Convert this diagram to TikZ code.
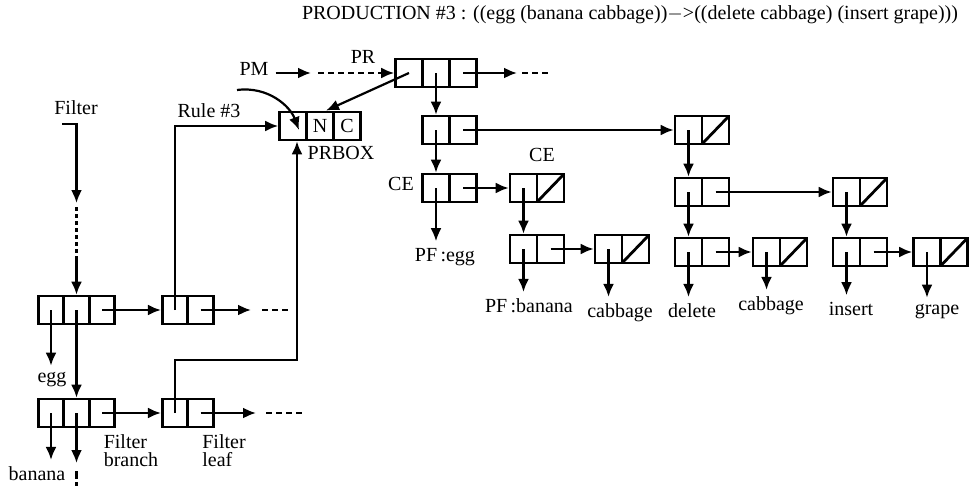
\documentclass[tikz,border=0pt]{standalone}
\usepackage{fontspec}
\setmainfont{Liberation Serif}
\usepackage{tikz}
\usetikzlibrary{arrows.meta,calc}

\tikzset{
	cell/.style={draw, line width=1.4pt, minimum width=13.5pt, minimum height=14pt, inner sep=0pt},
	fcell/.style={cell, minimum width=12.75pt},
	nil/.style={cell, path picture={\draw[line width=1.4pt] (path picture bounding box.south west) -- (path picture bounding box.north east);}},
	ptr/.style={line width=1.1pt, -{Latex[length=6.5pt,width=5.5pt]}},
	dots/.style={line width=1.1pt, dash pattern=on 3pt off 2pt},
}

\begin{document}
\begin{tikzpicture}[x=0.5pt, y=-0.5pt]
		\useasboundingbox (0,0) rectangle (970,487);
		\node (title) at (630,15) {PRODUCTION \#3 : ((egg\ (banana cabbage))$-$>((delete cabbage) (insert grape)))};

		\node (pm) at (254,69) {PM};
		\node (prlbl) at (363,57) {PR};
		\node[cell] (pr1) at (409,73) {};
		\node[cell] (pr2) at (436,73) {};
		\node[cell] (pr3) at (463,73) {};
		\coordinate (pmarrow) at (311,73);
		\coordinate (pmdots) at (318,73);
		\coordinate (prdots) at (381,73);
		\draw[ptr] (pm.east |- pmarrow) -- (pmarrow);
		\draw[dots] (pmdots) -- (prdots);
		\draw[ptr] (prdots) -- (pr1.west);
		\coordinate (prnext) at (517,73);
		\coordinate (prdotsa) at (522,73);
		\coordinate (prdotsb) at (550,73);
		\draw[ptr] (pr3.center) -- (prnext);
		\draw[dots] (prdotsa) -- (prdotsb);

		\node[cell] (prb1) at (293,126) {};
		\node[cell] (prb2) at (320,126) {N};
		\node[cell] (prb3) at (347,126) {C};
		\node (prboxlbl) at (341,153) {PRBOX};
		\draw[ptr] (pr1.center) -- ($(prb2.north)+(6,0)$);
		\coordinate (curvestart) at (237,90);
		\draw[ptr] (curvestart) .. controls (268,86) and (290,106) .. ($(prb1.center)+(6,4)$);

		\node[cell] (lhs1) at (436,130) {};
		\node[cell] (lhs2) at (463,130) {};
		\draw[ptr] (pr2.center) -- (lhs1.north);
		\node[cell] (cea1) at (436,188) {};
		\node[cell] (cea2) at (463,188) {};
		\node (celbla) at (401,184) {CE};
		\draw[ptr] (lhs1.center) -- (cea1.north);
		\node (pfegglbl) at (445,257) {PF\,:egg};
		\draw[ptr] (cea1.center) -- (cea1.center |- pfegglbl.north);
		\node[cell] (ceb1) at (523.5,188) {};
		\node[nil] (ceb2) at (550.5,188) {};
		\node (celblb) at (542,155) {CE};
		\draw[ptr] (cea2.center) -- (ceb1.west);
		\node[cell] (pfa1) at (523.5,249) {};
		\node[cell] (pfa2) at (550.5,249) {};
		\draw[ptr] (ceb1.center) -- (pfa1.north);
		\node[cell] (pfb1) at (608.5,249) {};
		\node[nil] (pfb2) at (635.5,249) {};
		\draw[ptr] (pfa2.center) -- (pfb1.west);
		\node (pfbananalbl) at (529,306) {PF\,:banana};
		\node (cabbagealbl) at (620,313) {cabbage};
		\draw[ptr] (pfa1.center) -- (pfa1.center |- pfbananalbl.north);
		\draw[ptr] (pfb1.center) -- (pfb1.center |- cabbagealbl.north);

		\node[cell] (rhs1) at (688.5,130) {};
		\node[nil] (rhs2) at (715.5,130) {};
		\draw[ptr] (lhs2.center) -- (rhs1.west);
		\node[cell] (acta1) at (688.5,192) {};
		\node[cell] (acta2) at (715.5,192) {};
		\draw[ptr] (rhs1.center) -- (acta1.north);
		\node[cell] (actb1) at (846.5,192) {};
		\node[nil] (actb2) at (873.5,192) {};
		\draw[ptr] (acta2.center) -- (actb1.west);
		\node[cell] (dela1) at (688.5,252) {};
		\node[cell] (dela2) at (715.5,252) {};
		\draw[ptr] (acta1.center) -- (dela1.north);
		\node[cell] (delb1) at (766.5,252) {};
		\node[nil] (delb2) at (793.5,252) {};
		\draw[ptr] (dela2.center) -- (delb1.west);
		\node[cell] (insa1) at (846.5,252) {};
		\node[cell] (insa2) at (873.5,252) {};
		\draw[ptr] (actb1.center) -- (insa1.north);
		\node[cell] (insb1) at (927,252) {};
		\node[nil] (insb2) at (954,252) {};
		\draw[ptr] (insa2.center) -- (insb1.west);
		\node (deletelbl) at (692,311) {delete};
		\node (cabbageblbl) at (771,306) {cabbage};
		\node (insertlbl) at (851,309) {insert};
		\node (grapelbl) at (937,312) {grape};
		\draw[ptr] (dela1.center) -- (dela1.center |- deletelbl.north);
		\draw[ptr] (delb1.center) -- (delb1.center |- cabbageblbl.north);
		\draw[ptr] (insa1.center) -- (insa1.center |- insertlbl.north);
		\draw[ptr] (insb1.center) -- (insb1.center |- grapelbl.north);

		\node (filterlbl) at (76,108) {Filter};
		\coordinate (ftop) at (62,124);
		\coordinate (fmid) at (76.5,203);
		\coordinate (fdota) at (76.5,207);
		\coordinate (fdotb) at (76.5,258);
		\node[fcell] (fb1) at (51,310) {};
		\node[fcell] (fb2) at (76.5,310) {};
		\node[fcell] (fb3) at (102,310) {};
		\draw[ptr] (ftop) -| (fmid);
		\draw[line width=1.1pt, dash pattern=on 2pt off 1.5pt] (fdota) -- (fdotb);
		\draw[ptr] (fdotb) -- (fb2.north);
		\node (egglbl) at (52,380) {egg};
		\draw[ptr] (fb1.center) -- (fb1.center |- egglbl.north);

		\node[fcell] (fc1) at (51,413) {};
		\node[fcell] (fc2) at (76.5,413) {};
		\node[fcell] (fc3) at (102,413) {};
		\draw[ptr] (fb2.center) -- (fc2.north);

		\node[fcell] (rule1) at (175,310) {};
		\node[fcell] (rule2) at (200.5,310) {};
		\node (rulelbl) at (209,111) {Rule \#3};
		\draw[ptr] (fb3.center) -- (rule1.west);
		\draw[ptr] (rule1.center) |- (prb1.west);
		\coordinate (rulenext) at (251,310);
		\coordinate (ruledotsa) at (262,310);
		\coordinate (ruledotsb) at (288,310);
		\draw[ptr] (rule2.center) -- (rulenext);
		\draw[dots] (ruledotsa) -- (ruledotsb);

		\node (bananalbl) at (37,474) {banana};
		\draw[ptr] (fc1.center) -- (fc1.center |- bananalbl.north);
		\coordinate (fcdown) at (76.5,463);
		\coordinate (fcmarka) at (76.5,471);
		\coordinate (fcmarkb) at (76.5,486);
		\draw[ptr] (fc2.center) -- (fcdown);
		\draw[line width=1.1pt, dash pattern=on 4pt off 1.5pt] (fcmarka) -- (fcmarkb);

		\node[fcell] (leaf1) at (175,413) {};
		\node[fcell] (leaf2) at (200.5,413) {};
		\draw[ptr] (fc3.center) -- (leaf1.west);
		\node[align=left] (branchlbl) at (131,451) {Filter\\[-3pt]branch};
		\node[align=left] (leaflbl) at (224,451) {Filter\\[-3pt]leaf};
		\coordinate (leafturn) at (297,360);
		\draw[ptr] (leaf1.center) |- (leafturn) -- (leafturn |- prb1.south);
		\coordinate (leafnext) at (256,413);
		\coordinate (leafdotsa) at (266,413);
		\coordinate (leafdotsb) at (302,413);
		\draw[ptr] (leaf2.center) -- (leafnext);
		\draw[dots] (leafdotsa) -- (leafdotsb);
\end{tikzpicture}
\end{document}
